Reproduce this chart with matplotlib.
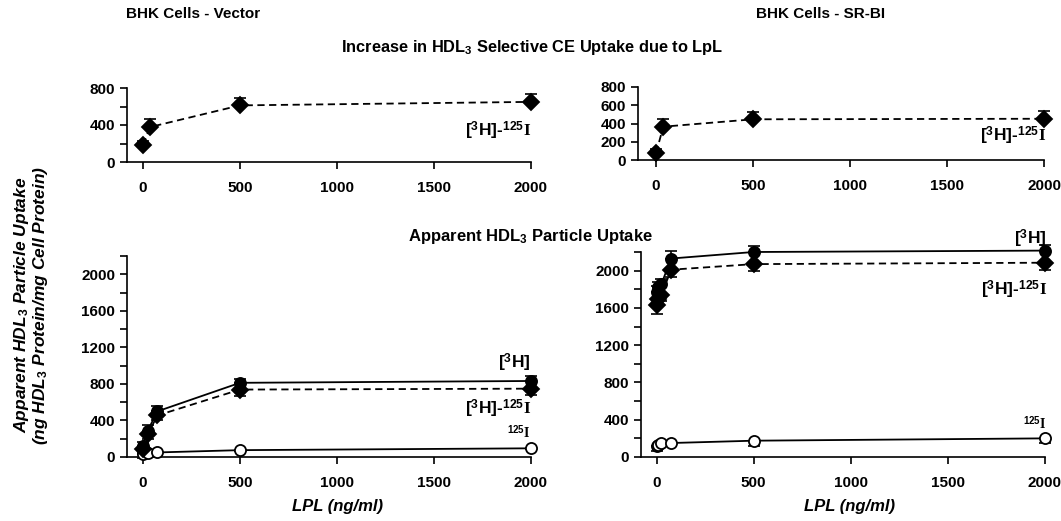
import matplotlib
matplotlib.use("Agg")
import matplotlib.pyplot as plt
from matplotlib.ticker import MultipleLocator

plt.rcParams['font.family'] = ['Liberation Sans', 'DejaVu Sans']
plt.rcParams['font.weight'] = 'bold'
plt.rcParams['mathtext.fontset'] = 'custom'
plt.rcParams['mathtext.rm'] = 'Liberation Sans:bold'
plt.rcParams['mathtext.bf'] = 'Liberation Sans:bold'
plt.rcParams['mathtext.it'] = 'Liberation Serif'

# ---------------- data ----------------
# Top panels: increase in selective CE uptake ([3H]-125I)
top_vec_x = [0, 37, 500, 2000]
top_vec_y = [185, 378, 612, 650]
top_vec_err = [45, 88, 85, 88]

top_sr_x = [0, 37, 500, 2000]
top_sr_y = [73, 365, 446, 452]
top_sr_err = [48, 80, 85, 80]

# Bottom-left: BHK Vector apparent particle uptake
bl_x = [0, 25, 75, 500, 2000]
bl_h3 = [120, 290, 500, 812, 832]
bl_h3_err = [40, 55, 60, 40, 55]
bl_diff = [90, 250, 455, 738, 748]
bl_diff_err = [40, 50, 55, 70, 70]
bl_i125 = [30, 40, 50, 75, 95]
bl_i125_err = [45, 20, 20, 10, 10]

# Bottom-right: BHK SR-BI apparent particle uptake
br_x = [0, 10, 25, 75, 500, 2000]
br_h3 = [1775, 1820, 1855, 2130, 2200, 2215]
br_h3_err = [60, 60, 60, 80, 60, 60]
br_diff = [1630, 1700, 1740, 2010, 2070, 2085]
br_diff_err = [90, 70, 70, 80, 70, 80]
br_i125 = [120, 130, 150, 150, 175, 200]
br_i125_err = [60, 30, 10, 10, 55, 55]

xticks = [0, 500, 1000, 1500, 2000]

W, H = 1061, 521
fig = plt.figure(figsize=(W / 100, H / 100), dpi=100)


def add_ax(x0, x1, y_top, y_bot):
    return fig.add_axes([x0 / W, 1 - y_bot / H, (x1 - x0) / W, (y_bot - y_top) / H])


def style(ax, xmin, ymax, major, minor, labelsize=11):
    ax.set_xlim(xmin, 2000)
    ax.set_ylim(0, ymax)
    for s in ['top', 'right']:
        ax.spines[s].set_visible(False)
    for s in ['left', 'bottom']:
        ax.spines[s].set_linewidth(1.2)
    ax.set_xticks(xticks)
    ax.yaxis.set_major_locator(MultipleLocator(major))
    ax.yaxis.set_minor_locator(MultipleLocator(minor))
    ax.tick_params(axis='both', which='major', length=5, width=1.2,
                   labelsize=labelsize, direction='out')
    ax.tick_params(axis='y', which='minor', length=5, width=1.2)
    ax.tick_params(axis='x', pad=9)
    for lab in ax.get_xticklabels() + ax.get_yticklabels():
        lab.set_fontweight('bold')


def series(ax, x, y, err, marker, ls, mfc, side):
    yerr = [err, [0] * len(err)] if side == 'down' else [[0] * len(err), err]
    ax.errorbar(x, y, yerr=yerr, fmt='none', ecolor='black', elinewidth=1.2,
                capsize=4.5, capthick=1.2, clip_on=False, zorder=2)
    ax.plot(x, y, linestyle=ls, color='black', linewidth=1.3,
            dashes=(4, 2.5) if ls == '--' else (None, None), zorder=3, clip_on=False)
    ax.plot(x, y, linestyle='none', marker=marker, markersize=8.5 if marker == 'D' else 8,
            mfc=mfc, mec='black', mew=1.3, zorder=4, clip_on=False)


label_diff = r"[$^{3}$H]-$^{125}\mathit{I}$"
label_h3 = r"[$^{3}$H]"
label_i = r"$^{125}\mathit{I}$"

# Top-left
ax1 = add_ax(127, 531, 88, 162)
style(ax1, -82, 800, 400, 200)
series(ax1, top_vec_x, top_vec_y, top_vec_err, 'D', '--', 'black', 'up')
ax1.text(2000, 340, label_diff, ha='right', va='center', fontsize=12.5)

# Top-right
ax2 = add_ax(638, 1044, 87, 160)
style(ax2, -93, 800, 200, 200)
series(ax2, top_sr_x, top_sr_y, top_sr_err, 'D', '--', 'black', 'up')
ax2.text(2010, 260, label_diff, ha='right', va='center', fontsize=12.5)

# Bottom-left
ax3 = add_ax(127, 531, 256, 457)
style(ax3, -82, 2200, 400, 200)
series(ax3, bl_x, bl_i125, bl_i125_err, 'o', '-', 'white', 'down')
series(ax3, bl_x, bl_diff, bl_diff_err, 'D', '--', 'black', 'down')
series(ax3, bl_x, bl_h3, bl_h3_err, 'o', '-', 'black', 'up')
ax3.text(2000, 1030, label_h3, ha='right', va='center', fontsize=12.5)
ax3.text(2000, 530, label_diff, ha='right', va='center', fontsize=12.5)
ax3.text(2000, 270, label_i, ha='right', va='center', fontsize=10)

# Bottom-right
ax4 = add_ax(641, 1045, 252, 457)
style(ax4, -80, 2200, 400, 200)
series(ax4, br_x, br_i125, br_i125_err, 'o', '-', 'white', 'down')
series(ax4, br_x, br_diff, br_diff_err, 'D', '--', 'black', 'down')
series(ax4, br_x, br_h3, br_h3_err, 'o', '-', 'black', 'up')
ax4.text(2010, 2340, label_h3, ha='right', va='center', fontsize=12.5, clip_on=False)
ax4.text(2010, 1790, label_diff, ha='right', va='center', fontsize=12.5)
ax4.text(2010, 360, label_i, ha='right', va='center', fontsize=10)

# Titles and labels
fig.text(193 / W, 1 - 14 / H, "BHK Cells - Vector", ha='center', va='center', fontsize=11, fontweight='bold')
fig.text(821 / W, 1 - 14 / H, "BHK Cells - SR-BI", ha='center', va='center', fontsize=11, fontweight='bold')
fig.text(532 / W, 1 - 47 / H, r"Increase in HDL$_3$ Selective CE Uptake due to LpL",
         ha='center', va='center', fontsize=11.8, fontweight='bold')
fig.text(530 / W, 1 - 236 / H, r"Apparent HDL$_3$ Particle Uptake",
         ha='center', va='center', fontsize=12, fontweight='bold')
fig.text(31 / W, 1 - 305 / H,
         "Apparent HDL$_3$ Particle Uptake\n(ng HDL$_3$ Protein/mg Cell Protein)",
         ha='center', va='center', rotation=90, fontsize=12.5, fontweight='bold',
         fontstyle='italic', linespacing=1.05)
fig.text(338 / W, 1 - 506 / H, "LPL (ng/ml)", ha='center', va='center',
         fontsize=12, fontweight='bold', fontstyle='italic')
fig.text(850 / W, 1 - 506 / H, "LPL (ng/ml)", ha='center', va='center',
         fontsize=12, fontweight='bold', fontstyle='italic')

fig.savefig("out.png", dpi=100, facecolor='white')
